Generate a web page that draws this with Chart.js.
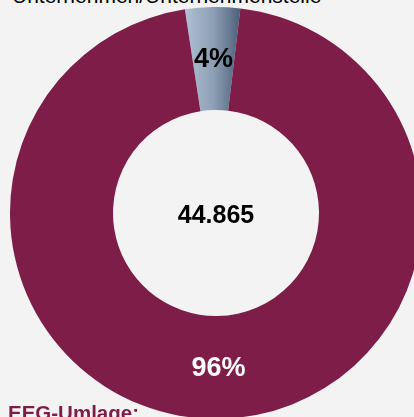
<!DOCTYPE html>
<html lang="de">
<head>
<meta charset="utf-8">
<script src="https://cdn.jsdelivr.net/npm/chart.js@4/dist/chart.umd.min.js"></script>
<style>
  html, body {
    margin: 0;
    padding: 0;
    width: 414px;
    height: 417px;
    overflow: hidden;
    background: #f3f3f3;
    font-family: "Liberation Sans", Arial, sans-serif;
  }
  .kopf {
    position: absolute;
    left: 12px;
    top: -16px;
    font-size: 21px;
    line-height: 24px;
    color: #000;
    white-space: nowrap;
  }
  .fuss {
    position: absolute;
    left: 8px;
    top: 401px;
    font-size: 20.5px;
    line-height: 24px;
    font-weight: bold;
    color: #7d1d48;
    white-space: nowrap;
  }
  #box {
    position: absolute;
    left: 10px;
    top: 7px;
    width: 412px;
    height: 412px;
  }
</style>
</head>
<body>
<div class="kopf">Unternehmen/Unternehmensteile</div>
<div id="box"><canvas id="ring" width="412" height="412"></canvas></div>
<div class="fuss">EEG-Umlage:</div>
<script>
// Anzahl Unternehmen/Unternehmensteile je Gruppe
const gruppen = ['begünstigt', 'nicht begünstigt'];
const anzahl = [1930, 42935];
const farbeRest = '#7d1d48';
const labelFarben = ['#000000', '#ffffff'];

const summe = anzahl.reduce((a, b) => a + b, 0);

function tausender(n) {
  return String(n).replace(/\B(?=(\d{3})+(?!\d))/g, '.');
}

// erstes Segment: graublauer Verlauf von links hell nach rechts dunkel
function segmentFarbe(context) {
  if (context.dataIndex !== 0) return farbeRest;
  const chart = context.chart;
  const area = chart.chartArea;
  if (!area) return '#8a9db3';
  const cx = (area.left + area.right) / 2;
  const g = chart.ctx.createLinearGradient(cx - 32, 0, cx + 26, 0);
  g.addColorStop(0, '#b2c1d2');
  g.addColorStop(0.5, '#8ea0b6');
  g.addColorStop(0.85, '#5d7089');
  g.addColorStop(1, '#465a74');
  return g;
}

const ringText = {
  id: 'ringText',
  afterDatasetsDraw(chart) {
    const ctx = chart.ctx;
    const meta = chart.getDatasetMeta(0);
    ctx.save();
    ctx.textAlign = 'center';
    ctx.textBaseline = 'middle';
    meta.data.forEach((arc, i) => {
      const p = arc.tooltipPosition();
      ctx.fillStyle = labelFarben[i];
      ctx.font = 'bold 27px "Liberation Sans", Arial, sans-serif';
      ctx.fillText(Math.round(anzahl[i] / summe * 100) + '%', p.x, p.y + 1);
    });
    const a = chart.chartArea;
    ctx.fillStyle = '#000';
    ctx.font = 'bold 25px "Liberation Sans", Arial, sans-serif';
    ctx.fillText(tausender(summe), (a.left + a.right) / 2, (a.top + a.bottom) / 2 + 3);
    ctx.restore();
  }
};

new Chart(document.getElementById('ring'), {
  type: 'doughnut',
  data: {
    labels: gruppen,
    datasets: [{
      data: anzahl,
      backgroundColor: segmentFarbe,
      borderWidth: 0,
      hoverOffset: 0
    }]
  },
  options: {
    responsive: false,
    animation: false,
    cutout: '50%',
    rotation: -8.7,
    layout: { padding: 0 },
    plugins: {
      legend: { display: false },
      tooltip: { enabled: false }
    }
  },
  plugins: [ringText]
});
</script>
</body>
</html>
